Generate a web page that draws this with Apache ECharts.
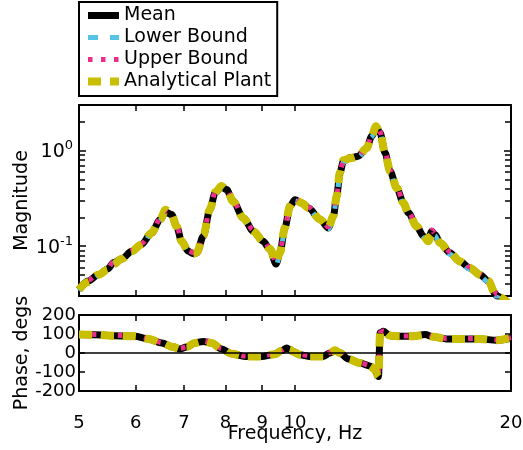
<!DOCTYPE html>
<html><head><meta charset="utf-8">
<script src="https://cdn.jsdelivr.net/npm/echarts@6/dist/echarts.min.js"></script>
<style>html,body{margin:0;padding:0;background:#fff}#c{width:523px;height:450px}</style>
</head><body><div id="c"></div>
<script>
const seriesNames = ['Mean', 'Lower Bound', 'Upper Bound', 'Analytical Plant'];
const seriesColors = ['#000000', '#55C4E4', '#EC2D8C', '#C9BE00'];
const freqTicks = [5, 6, 7, 8, 9, 10, 20];
const magLabelTicks = [0.1, 1];
const phaseTicks = [-200, -100, 0, 100, 200];

const freqMag = [5.00, 5.15, 5.32, 5.49, 5.58, 5.73, 5.92, 6.11, 6.31, 6.49, 6.60, 6.73, 6.84, 6.95, 7.10, 7.22, 7.30, 7.45, 7.61, 7.74, 7.90, 8.03, 8.20, 8.47, 8.75, 9.03, 9.23, 9.41, 9.53, 9.68, 9.84, 10.0, 10.22, 10.44, 10.84, 11.13, 11.31, 11.43, 11.55, 11.68, 11.93, 12.25, 12.59, 12.79, 12.97, 13.14, 13.35, 13.57, 13.86, 14.16, 14.39, 14.78, 15.10, 15.34, 15.51, 15.67, 15.93, 16.44, 16.98, 17.53, 18.11, 18.60, 19.00, 19.10, 20.0];
const meanMag = [0.035, 0.043, 0.050, 0.058, 0.067, 0.073, 0.088, 0.104, 0.137, 0.190, 0.228, 0.214, 0.161, 0.112, 0.088, 0.083, 0.085, 0.127, 0.241, 0.361, 0.418, 0.390, 0.294, 0.197, 0.143, 0.112, 0.092, 0.065, 0.085, 0.155, 0.261, 0.305, 0.283, 0.251, 0.190, 0.155, 0.205, 0.332, 0.584, 0.773, 0.839, 0.872, 1.067, 1.411, 1.780, 1.532, 0.946, 0.607, 0.407, 0.283, 0.223, 0.161, 0.127, 0.117, 0.143, 0.132, 0.108, 0.085, 0.069, 0.059, 0.050, 0.043, 0.032, 0.030, 0.024];
const lowerMag = [0.034, 0.042, 0.049, 0.057, 0.066, 0.072, 0.086, 0.102, 0.135, 0.186, 0.222, 0.210, 0.158, 0.110, 0.086, 0.081, 0.083, 0.124, 0.236, 0.354, 0.410, 0.383, 0.288, 0.193, 0.140, 0.109, 0.089, 0.062, 0.082, 0.151, 0.255, 0.298, 0.277, 0.246, 0.186, 0.151, 0.200, 0.325, 0.572, 0.757, 0.822, 0.855, 1.046, 1.383, 1.745, 1.500, 0.927, 0.594, 0.398, 0.277, 0.218, 0.157, 0.124, 0.113, 0.139, 0.128, 0.105, 0.082, 0.067, 0.057, 0.048, 0.042, 0.031, 0.029, 0.023];
const upperMag = [0.036, 0.044, 0.051, 0.059, 0.068, 0.075, 0.090, 0.106, 0.140, 0.194, 0.232, 0.219, 0.165, 0.115, 0.090, 0.085, 0.087, 0.130, 0.246, 0.368, 0.426, 0.398, 0.300, 0.201, 0.146, 0.115, 0.094, 0.067, 0.087, 0.158, 0.266, 0.311, 0.289, 0.256, 0.194, 0.159, 0.209, 0.339, 0.596, 0.789, 0.856, 0.889, 1.088, 1.440, 1.815, 1.563, 0.965, 0.619, 0.415, 0.289, 0.228, 0.165, 0.130, 0.120, 0.147, 0.135, 0.110, 0.087, 0.071, 0.060, 0.051, 0.044, 0.033, 0.031, 0.025];
const plantMag = [0.035, 0.042, 0.050, 0.057, 0.064, 0.073, 0.088, 0.104, 0.137, 0.192, 0.240, 0.212, 0.160, 0.112, 0.089, 0.083, 0.086, 0.128, 0.243, 0.365, 0.425, 0.388, 0.293, 0.197, 0.143, 0.112, 0.093, 0.068, 0.086, 0.156, 0.262, 0.307, 0.282, 0.250, 0.190, 0.156, 0.206, 0.334, 0.590, 0.790, 0.830, 0.868, 1.067, 1.420, 1.800, 1.520, 0.946, 0.607, 0.407, 0.283, 0.223, 0.161, 0.128, 0.112, 0.130, 0.130, 0.108, 0.085, 0.069, 0.059, 0.050, 0.043, 0.032, 0.030, 0.024];

const freqPhase = [5.00, 5.26, 5.61, 5.98, 6.25, 6.52, 6.77, 6.91, 7.06, 7.25, 7.45, 7.65, 7.90, 8.16, 8.52, 8.98, 9.38, 9.58, 9.74, 9.84, 9.94, 10.16, 10.49, 10.95, 11.19, 11.37, 11.55, 11.87, 12.32, 12.72, 12.93, 13.07, 13.14, 13.28, 13.57, 14.01, 14.62, 15.18, 15.59, 16.27, 17.16, 18.11, 19.10, 20.0];
const meanPhase = [97, 96, 91, 88, 74, 53, 31, 21, 31, 53, 61, 53, 21, -4, -18, -18, -6, 13, 26, 17, 6, -9, -18, -18, 0, 13, 0, -32, -53, -68, -89, -124, 106, 114, 91, 88, 88, 97, 85, 74, 74, 74, 67, 79];
const lowerPhase = [95, 94, 89, 86, 72, 51, 29, 19, 29, 51, 59, 51, 19, -6, -20, -20, -8, 11, 24, 15, 4, -11, -20, -20, -2, 11, -2, -34, -55, -70, -91, -126, 104, 112, 89, 86, 86, 95, 83, 72, 72, 72, 65, 77];
const upperPhase = [99, 98, 93, 90, 76, 55, 33, 23, 33, 55, 63, 55, 23, -2, -16, -16, -4, 15, 28, 19, 8, -7, -16, -16, 2, 15, 2, -30, -51, -66, -87, -122, 108, 116, 93, 90, 90, 99, 87, 76, 76, 76, 69, 81];
const plantPhase = [97, 96, 91, 88, 74, 53, 31, 20, 31, 53, 62, 53, 21, -4, -18, -18, -6, 13, 27, 18, 6, -9, -18, -18, 0, 14, 0, -32, -53, -68, -90, -126, 106, 114, 91, 88, 88, 96, 85, 74, 74, 74, 67, 79];

const FONT = 'DejaVu Sans';
const magData = [meanMag, lowerMag, upperMag, plantMag];
const phaseData = [meanPhase, lowerPhase, upperPhase, plantPhase];
const lineStyles = [
  { width: 7, type: 'solid' },
  { width: 5, type: [10, 12] },
  { width: 5, type: [4.5, 8.5] },
  { width: 8, type: [13, 9] }
];

function pairs(xs, ys) { return xs.map((x, i) => [x, ys[i]]); }

const tickStyle = { color: '#000', width: 1.5 };
const nameStyle = { fontFamily: FONT, fontSize: 19, color: '#000' };
const axisLineStyle = { show: true, onZero: false, lineStyle: { color: '#000', width: 2 } };

function xAx(gridIndex, position, showLabels, name) {
  return {
    type: 'log', logBase: 10, gridIndex: gridIndex, position: position, min: 5, max: 20,
    axisLine: axisLineStyle,
    splitLine: { show: false },
    minorTick: { show: false },
    axisTick: { show: true, inside: true, length: 6, customValues: freqTicks, lineStyle: tickStyle },
    axisLabel: { show: showLabels, customValues: freqTicks, margin: 23, fontFamily: FONT, fontSize: 18, color: '#000' },
    name: name || '', nameLocation: 'middle', nameGap: 34, nameMoveOverlap: false,
    nameTextStyle: nameStyle
  };
}

function magAx(position, showLabels, name) {
  return {
    type: 'log', logBase: 10, gridIndex: 0, position: position, min: 0.03, max: 3,
    axisLine: axisLineStyle,
    splitLine: { show: false },
    minorSplitLine: { show: false },
    axisTick: { show: true, inside: true, length: 7, lineStyle: tickStyle },
    minorTick: { show: true, splitNumber: 9, length: 6, lineStyle: tickStyle },
    axisLabel: {
      show: showLabels, customValues: magLabelTicks, margin: 6,
      formatter: function (v) { return '{b|10}{s|' + Math.round(Math.log10(v)) + '}'; },
      rich: {
        b: { fontFamily: FONT, fontSize: 19, color: '#000', lineHeight: 22, verticalAlign: 'bottom' },
        s: { fontFamily: FONT, fontSize: 13, color: '#000', lineHeight: 22, verticalAlign: 'top' }
      }
    },
    name: name || '', nameLocation: 'middle', nameGap: 47, nameMoveOverlap: false,
    nameTextStyle: nameStyle
  };
}

function phaseAx(position, showLabels, name) {
  return {
    type: 'value', gridIndex: 1, position: position, min: -200, max: 200, interval: 100,
    axisLine: axisLineStyle,
    splitLine: { show: false },
    axisTick: { show: true, inside: true, length: 6, lineStyle: tickStyle },
    axisLabel: { show: showLabels, margin: 3, fontFamily: FONT, fontSize: 18, color: '#000' },
    name: name || '', nameLocation: 'middle', nameGap: 47, nameMoveOverlap: false,
    nameTextStyle: nameStyle
  };
}

const series = [];
seriesNames.forEach((n, i) => {
  series.push({
    name: n, type: 'line', xAxisIndex: 0, yAxisIndex: 0,
    data: pairs(freqMag, magData[i]),
    smooth: 0.3, smoothMonotone: 'x', symbol: 'none', silent: true, animation: false,
    color: seriesColors[i],
    lineStyle: Object.assign({ color: seriesColors[i] }, lineStyles[i])
  });
});
seriesNames.forEach((n, i) => {
  const s = {
    name: n, type: 'line', xAxisIndex: 2, yAxisIndex: 2,
    data: pairs(freqPhase, phaseData[i]),
    smooth: 0.3, smoothMonotone: 'x', symbol: 'none', silent: true, animation: false,
    color: seriesColors[i],
    lineStyle: Object.assign({ color: seriesColors[i] }, lineStyles[i])
  };
  if (i === 0) {
    s.markLine = {
      silent: true, symbol: 'none', animation: false,
      label: { show: false },
      lineStyle: { color: '#000', width: 1.5, type: 'solid' },
      data: [{ yAxis: 0 }]
    };
  }
  series.push(s);
});

const chart = echarts.init(document.getElementById('c'), null, { renderer: 'canvas' });
chart.setOption({
  animation: false,
  backgroundColor: '#fff',
  textStyle: { fontFamily: FONT },
  legend: {
    orient: 'vertical', left: 79, top: 2,
    data: seriesNames,
    itemWidth: 31, itemHeight: 14, itemGap: 3,
    padding: [4, 6, 5, 5],
    borderColor: '#000', borderWidth: 2,
    selectedMode: false,
    textStyle: { fontFamily: FONT, fontSize: 19, color: '#000' },
    lineStyle: { width: 'inherit' },
    itemStyle: { color: 'rgba(0,0,0,0)', borderWidth: 0, opacity: 0 }
  },
  grid: [
    { left: 79, top: 105, width: 432, height: 191, show: false, outerBoundsMode: 'none', containLabel: false },
    { left: 79, top: 315, width: 432, height: 76, show: false, outerBoundsMode: 'none', containLabel: false }
  ],
  xAxis: [
    xAx(0, 'bottom', false),
    xAx(0, 'top', false),
    xAx(1, 'bottom', true, 'Frequency, Hz'),
    xAx(1, 'top', false)
  ],
  yAxis: [
    magAx('left', true, 'Magnitude'),
    magAx('right', false),
    phaseAx('left', true, 'Phase, degs'),
    phaseAx('right', false)
  ],
  series: series
});
</script></body></html>
